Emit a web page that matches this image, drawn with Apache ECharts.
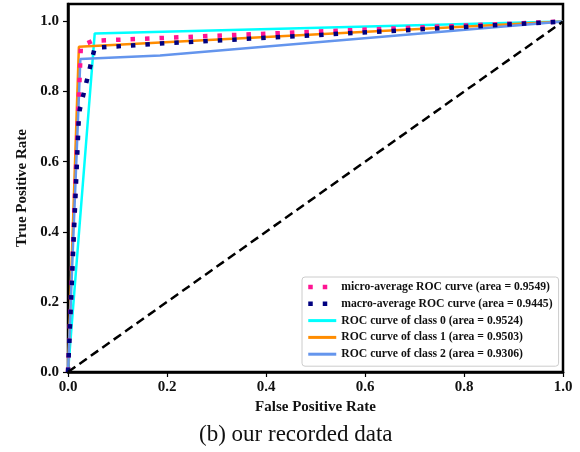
<!DOCTYPE html>
<html>
<head>
<meta charset="utf-8">
<script src="https://cdn.jsdelivr.net/npm/echarts@6/dist/echarts.min.js"></script>
<style>html,body{margin:0;padding:0;background:#fff;}#main{width:580px;height:452px;}</style>
</head>
<body>
<div id="main"></div>
<script>
// ---- data ----
const xTicks = [0, 0.2, 0.4, 0.6, 0.8, 1.0];
const yTicks = [0, 0.2, 0.4, 0.6, 0.8, 1.0];
const seriesNames = [
  'micro-average ROC curve (area = 0.9549)',
  'macro-average ROC curve (area = 0.9445)',
  'ROC curve of class 0 (area = 0.9524)',
  'ROC curve of class 1 (area = 0.9503)',
  'ROC curve of class 2 (area = 0.9306)'
];
const microFpr = [0, 0.026, 0.05, 1];
const microTpr = [0, 0.93, 0.945, 1];
const macroFpr = [0, 0.022, 0.024, 0.054, 0.186, 1];
const macroTpr = [0, 0.73, 0.75, 0.925, 0.937, 1];
const class0Fpr = [0, 0.054, 1];
const class0Tpr = [0, 0.966, 1];
const class1Fpr = [0, 0.022, 1];
const class1Tpr = [0, 0.928, 1];
const class2Fpr = [0, 0.025, 0.186, 1];
const class2Tpr = [0, 0.893, 0.903, 1];
const chanceFpr = [0, 1];
const chanceTpr = [0, 1];
const caption = '(b) our recorded data';

const zip = (a, b) => a.map((v, i) => [v, b[i]]);
const serif = 'Liberation Serif, Times New Roman, serif';
const dotted = [4.5, 10];

const chart = echarts.init(document.getElementById('main'), null, {renderer: 'canvas'});
const lineSeries = (name, data, color, width, type, z) => ({
  name: name, type: 'line', data: data, symbol: 'none', showSymbol: false,
  lineStyle: {color: color, width: width, type: type, cap: 'butt'},
  itemStyle: {color: color}, z: z, animation: false, silent: true
});

chart.setOption({
  animation: false,
  grid: {left: 68, right: 17, top: 4, bottom: 80, show: true, borderColor: '#000', borderWidth: 2.5, containLabel: false},
  xAxis: {
    type: 'value', min: 0, max: 1, interval: 0.2,
    name: 'False Positive Rate', nameLocation: 'middle', nameGap: 28,
    nameTextStyle: {fontFamily: serif, fontWeight: 'bold', fontSize: 15, color: '#111'},
    axisLine: {show: true, lineStyle: {color: '#000', width: 2.5}},
    axisTick: {show: true, length: 5, lineStyle: {color: '#000', width: 1.2}, customValues: xTicks},
    axisLabel: {fontFamily: serif, fontWeight: 'bold', fontSize: 15, color: '#111', margin: 8,
      customValues: xTicks, formatter: v => v.toFixed(1)},
    splitLine: {show: false}
  },
  yAxis: {
    type: 'value', min: 0, max: 1.05, interval: 0.2,
    name: 'True Positive Rate', nameLocation: 'middle', nameGap: 36,
    nameTextStyle: {fontFamily: serif, fontWeight: 'bold', fontSize: 15, color: '#111'},
    axisLine: {show: true, lineStyle: {color: '#000', width: 2.5}},
    axisTick: {show: true, length: 5, lineStyle: {color: '#000', width: 1.2}, customValues: yTicks},
    axisLabel: {fontFamily: serif, fontWeight: 'bold', fontSize: 15, color: '#111', margin: 9,
      customValues: yTicks, formatter: v => v.toFixed(1)},
    splitLine: {show: false}
  },
  legend: {
    orient: 'vertical', left: 302, top: 277,
    padding: [4, 6, 6, 4], itemGap: 4.8, itemWidth: 28, itemHeight: 12,
    backgroundColor: 'rgba(255,255,255,0.85)', borderColor: '#cccccc', borderWidth: 1, borderRadius: 3,
    data: [
      {name: seriesNames[0], lineStyle: {width: 4.5, type: dotted}},
      {name: seriesNames[1], lineStyle: {width: 4.5, type: dotted}},
      {name: seriesNames[2], lineStyle: {width: 3}},
      {name: seriesNames[3], lineStyle: {width: 3}},
      {name: seriesNames[4], lineStyle: {width: 3}}
    ],
    itemStyle: {opacity: 0},
    textStyle: {fontFamily: serif, fontWeight: 'bold', fontSize: 11.7, color: '#111', lineHeight: 12},
    selectedMode: false
  },
  graphic: [{
    type: 'text', left: 199, top: 423,
    style: {text: caption, font: '23px "Liberation Serif", serif', fill: '#111'}
  }],
  series: [
    lineSeries(seriesNames[0], zip(microFpr, microTpr), '#ff1493', 4.5, dotted, 5),
    lineSeries(seriesNames[1], zip(macroFpr, macroTpr), '#000080', 4.5, dotted, 6),
    lineSeries(seriesNames[2], zip(class0Fpr, class0Tpr), '#00ffff', 2.5, 'solid', 3),
    lineSeries(seriesNames[3], zip(class1Fpr, class1Tpr), '#ff8c00', 2.5, 'solid', 4),
    lineSeries(seriesNames[4], zip(class2Fpr, class2Tpr), '#6495ed', 2.5, 'solid', 4),
    lineSeries('chance', zip(chanceFpr, chanceTpr), '#000000', 2.5, [9, 5], 7)
  ]
});
</script>
</body>
</html>
